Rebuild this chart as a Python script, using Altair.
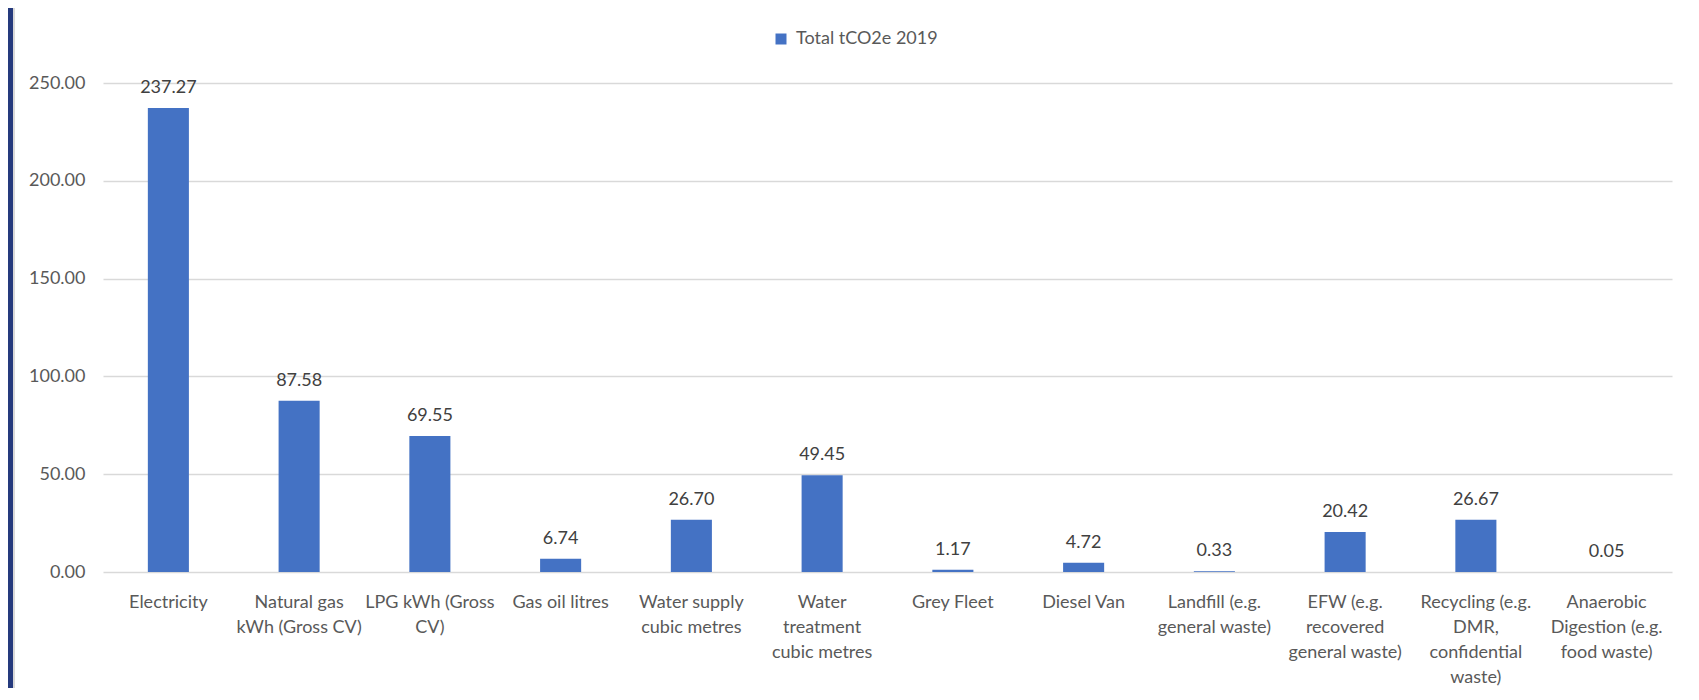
import altair as alt
import pandas as pd

categories = [
    "Electricity",
    "Natural gas\nkWh (Gross CV)",
    "LPG kWh (Gross\nCV)",
    "Gas oil litres",
    "Water supply\ncubic metres",
    "Water\ntreatment\ncubic metres",
    "Grey Fleet",
    "Diesel Van",
    "Landfill (e.g.\ngeneral waste)",
    "EFW (e.g.\nrecovered\ngeneral waste)",
    "Recycling (e.g.\nDMR,\nconfidential\nwaste)",
    "Anaerobic\nDigestion (e.g.\nfood waste)",
]
values = [237.27, 87.58, 69.55, 6.74, 26.70, 49.45, 1.17, 4.72, 0.33, 20.42, 26.67, 0.05]
series_name = "Total tCO2e 2019"
y_ticks = [0, 50, 100, 150, 200, 250]

BAR = "#4472C4"
AXIS_TXT = "#595959"
LABEL_TXT = "#404040"
GRID = "#D9D9D9"
NAVY = "#253A7D"
FONT = "Lato"

df = pd.DataFrame({"category": categories, "value": values, "series": [series_name] * len(values)})

base = alt.Chart(df)

x_enc = alt.X(
    "category:N",
    sort=categories,
    scale=alt.Scale(paddingInner=0.686, paddingOuter=0.343),
    axis=alt.Axis(
        title=None,
        labelAngle=0,
        labelExpr="split(datum.label, '\\n')",
        labelFont=FONT,
        labelFontSize=18,
        labelColor=AXIS_TXT,
        labelLineHeight=25,
        labelPadding=21,
        labelBaseline="top",
        labelOverlap=False,
        labelLimit=300,
        ticks=False,
        tickSize=0,
        domain=False,
        grid=False,
    ),
)
y_enc = alt.Y(
    "value:Q",
    scale=alt.Scale(domain=[0, 250], nice=False),
    axis=alt.Axis(
        title=None,
        values=y_ticks,
        format=".2f",
        labelFont=FONT,
        labelFontSize=18,
        labelColor=AXIS_TXT,
        labelPadding=18,
        ticks=False,
        tickSize=0,
        domain=False,
        grid=True,
        gridColor=GRID,
        gridWidth=1.5,
    ),
)

bars = base.mark_bar().encode(
    x=x_enc,
    y=y_enc,
    color=alt.Color(
        "series:N",
        scale=alt.Scale(range=[BAR]),
        legend=alt.Legend(
            title=None,
            orient="none",
            legendX=669,
            legendY=-53,
            symbolType="square",
            symbolSize=121,
            symbolStrokeWidth=0,
            labelFont=FONT,
            labelFontSize=18,
            labelColor=AXIS_TXT,
            labelOffset=6,
            padding=0,
        ),
    ),
)

text = base.mark_text(
    dy=-15, font=FONT, fontSize=18, color=LABEL_TXT, align="center", baseline="alphabetic"
).encode(
    x=alt.X("category:N", sort=categories),
    y=alt.Y("value:Q"),
    text=alt.Text("value:Q", format=".2f"),
)

deco = pd.DataFrame({"d": [0]})
navy_strip = alt.Chart(deco).mark_rect(color=NAVY).encode(
    x=alt.value(-95), x2=alt.value(-90), y=alt.value(-75), y2=alt.value(605)
)
grey_strip = alt.Chart(deco).mark_rect(color=GRID).encode(
    x=alt.value(-90), x2=alt.value(-88), y=alt.value(-75), y2=alt.value(605)
)

chart = (
    alt.layer(navy_strip, grey_strip, bars, text)
    .properties(
        width=1569,
        height=489,
        padding={"left": 95, "top": 75, "right": 19, "bottom": 116},
        autosize=alt.AutoSizeParams(type="none"),
        background="white",
    )
    .configure_view(stroke=None)
)

chart.save("out.html", embed_options={"renderer": "svg", "actions": False})
